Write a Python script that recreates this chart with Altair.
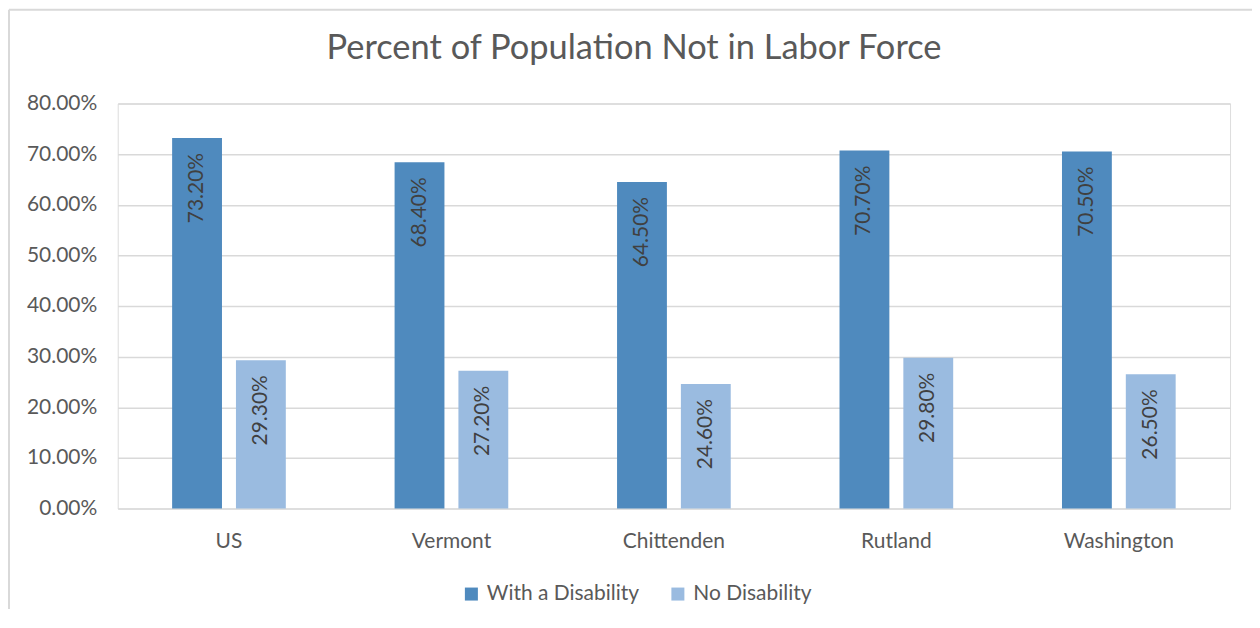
import altair as alt
import pandas as pd

regions = ["US", "Vermont", "Chittenden", "Rutland", "Washington"]
series = ["With a Disability", "No Disability"]
with_dis = [0.732, 0.684, 0.645, 0.707, 0.705]
no_dis = [0.293, 0.272, 0.246, 0.298, 0.265]
colors = ["#4F8ABE", "#9ABBE0"]

rows = []
for r, a, b in zip(regions, with_dis, no_dis):
    rows.append({"region": r, "series": series[0], "value": a})
    rows.append({"region": r, "series": series[1], "value": b})
df = pd.DataFrame(rows)

FONT = "Lato"
GREY = "#595959"

x = alt.X("region:N", sort=regions, title=None,
          scale=alt.Scale(paddingInner=0.489, paddingOuter=0.2445),
          axis=alt.Axis(labelAngle=0, labelFontSize=21, labelColor=GREY, labelFont=FONT,
                        domain=False, ticks=False, labelPadding=22))
xo = alt.XOffset("series:N", sort=series,
                 scale=alt.Scale(paddingInner=0.219, paddingOuter=0))
y = alt.Y("value:Q", title=None,
          scale=alt.Scale(domain=[0, 0.8], nice=False),
          axis=alt.Axis(format=".2%", values=[0, 0.1, 0.2, 0.3, 0.4, 0.5, 0.6, 0.7, 0.8],
                        labelFontSize=21, labelColor=GREY, labelFont=FONT,
                        domain=False, ticks=False, labelPadding=21,
                        gridColor="#D9D9D9", gridWidth=1.5))

bars = alt.Chart(df).mark_bar().encode(
    x=x, xOffset=xo, y=y,
    color=alt.Color("series:N", sort=series, title=None,
                    scale=alt.Scale(domain=series, range=colors),
                    legend=alt.Legend(orient="none", direction="horizontal",
                                      legendX=344, legendY=481,
                                      symbolType="square", symbolSize=170,
                                      symbolStrokeWidth=0,
                                      labelFontSize=21, labelColor=GREY, labelFont=FONT,
                                      columnPadding=28, labelOffset=5)),
)

labels = alt.Chart(df).mark_text(angle=270, align="right", baseline="middle",
                                 dx=-15, fontSize=21, color="#404040", font=FONT).encode(
    x=x, xOffset=xo, y=y,
    text=alt.Text("value:Q", format=".2%"),
)

border_df = pd.DataFrame({"k": [0]})
left_border = alt.Chart(border_df).mark_rule(color="#D9D9D9", strokeWidth=2).encode(
    x=alt.value(-109), y=alt.value(-94), y2=alt.value(540))
top_border = alt.Chart(border_df).mark_rule(color="#D9D9D9", strokeWidth=2).encode(
    x=alt.value(-109), x2=alt.value(1160), y=alt.value(-94))

chart = alt.layer(bars, labels, left_border, top_border).properties(
    width=1115, height=406,
    autosize=alt.AutoSizeParams(type="none"),
    padding={"left": 110, "top": 95, "right": 22, "bottom": 100},
    title=alt.TitleParams("Percent of Population Not in Labor Force",
                          fontSize=34.5, font=FONT, fontWeight="normal", color=GREY,
                          anchor="middle", frame="group", offset=0, dy=58, dx=-40),
).configure_view(strokeWidth=0).configure(background="white")

chart.save("out.html", embed_options={"renderer": "svg", "actions": False})
